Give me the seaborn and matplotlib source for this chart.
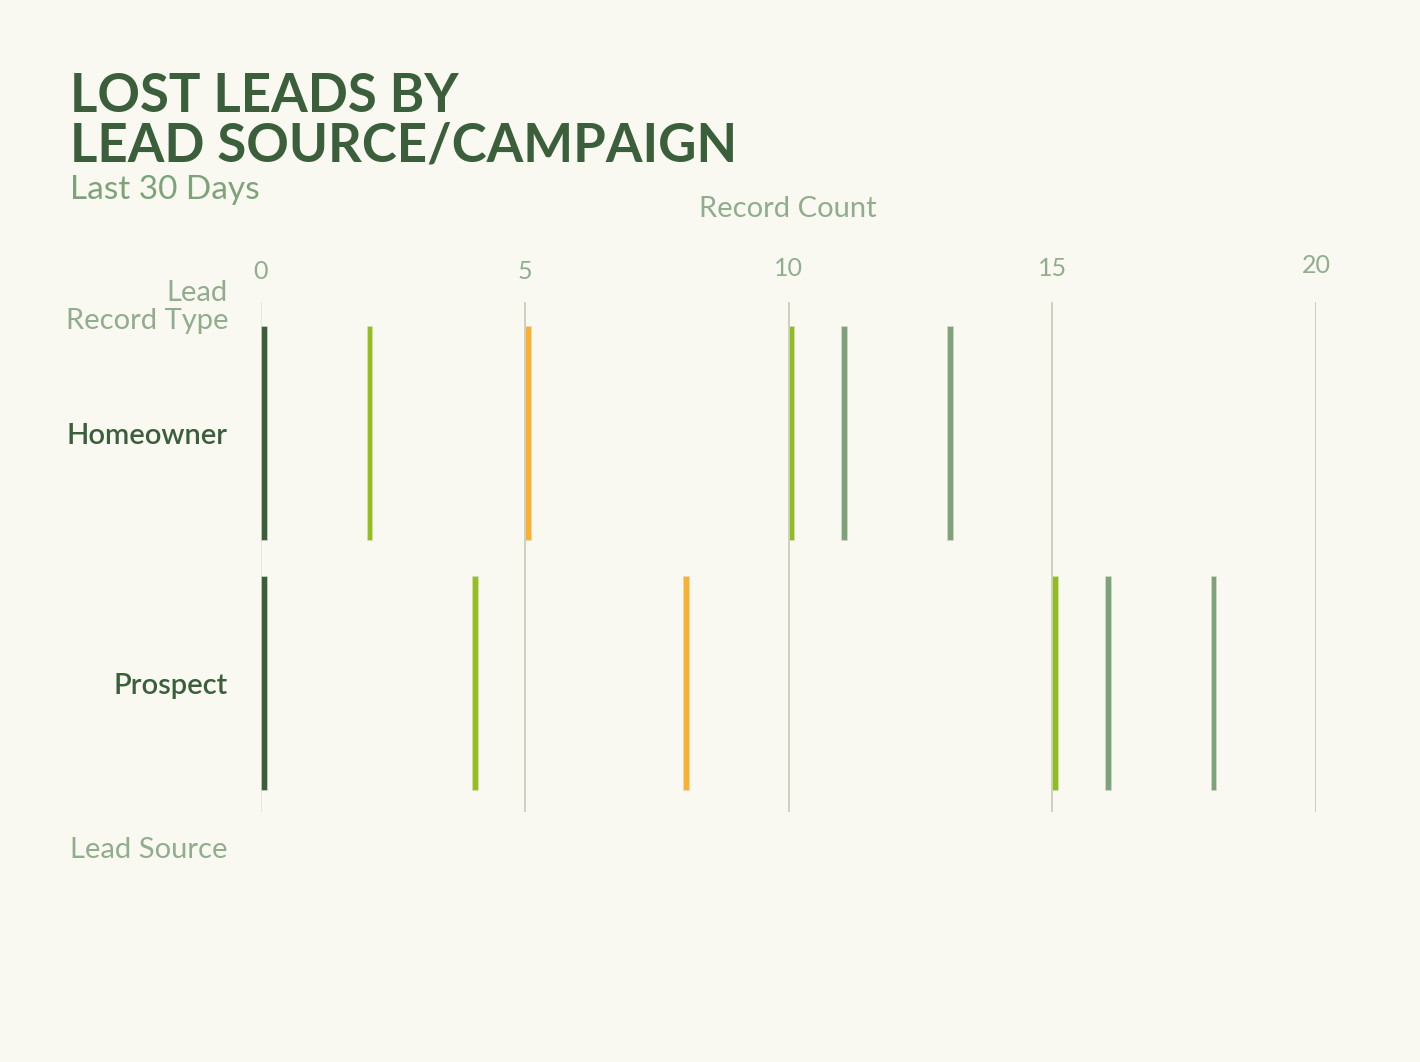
import matplotlib
matplotlib.use("Agg")
import matplotlib.pyplot as plt
import matplotlib.transforms as mtransforms
import seaborn as sns
import numpy as np

# lead record types (rows) and lead sources (stacked segments)
record_types = ["Homeowner", "Prospect"]
lead_sources = ["Web", "Phone Inquiry", "Partner Referral", "Purchased List", "Trade Show", "Other"]
homeowner_counts = [2, 3, 5, 1, 2, 1]
prospect_counts = [4, 4, 7, 1, 2, 1]
x_ticks = [0, 5, 10, 15, 20]

source_colors = ["#3b5e3b", "#93c01f", "#fbb12d", "#8fbd1f", "#7ea37a", "#7ea37a"]
bg = "#f9f9f2"
dark = "#3b5e3b"
muted = "#7ea37a"
light = "#91ad8d"

sns.set_theme(style="white")
plt.rcParams["font.family"] = ["Lato", "DejaVu Sans"]

fig = plt.figure(figsize=(14.2, 10.62), dpi=100, facecolor=bg)
ax = fig.add_axes([0.1838, 0.2354, 0.743, 0.4802], facecolor=bg)

counts = np.array([homeowner_counts, prospect_counts], dtype=float)
starts = np.cumsum(counts, axis=1) - counts
y = np.arange(len(record_types))

# each segment shows as a thin stroke where it begins
for j, src in enumerate(lead_sources):
    ax.barh(y, 0.11, left=starts[:, j], height=0.856, color=source_colors[j],
            edgecolor="#dcdccd", linewidth=0.4, label=src, zorder=3)

for t in x_ticks:
    ax.axvline(t, color="#e2e2d6" if t == 0 else "#c4c4b4", lw=1.1, zorder=1)

ax.set_xlim(0, 20)
ax.set_ylim(1.516, -0.524)
ax.set_xticks(x_ticks)
ax.xaxis.tick_top()
ax.tick_params(axis="x", length=0, pad=14, labelsize=18, labelcolor=light)
# the top labels climb a little from left to right
for tk, dy in zip(ax.xaxis.get_major_ticks(), [0, 0, 3, 3, 6]):
    tk.label2.set_transform(tk.label2.get_transform() +
                            mtransforms.ScaledTranslation(0, dy / 100, fig.dpi_scale_trans))
ax.set_yticks(y)
ax.set_yticklabels(record_types, fontsize=21, color=dark, fontweight="semibold")
ax.tick_params(axis="y", length=0, pad=24)
for s in ax.spines.values():
    s.set_visible(False)

fig.text(70 / 1420, 1 - 112 / 1062, "LOST LEADS BY", fontsize=38, fontweight="bold",
         color=dark, ha="left", va="baseline")
fig.text(70 / 1420, 1 - 162 / 1062, "LEAD SOURCE/CAMPAIGN", fontsize=38, fontweight="bold",
         color=dark, ha="left", va="baseline")
fig.text(70 / 1420, 1 - 199 / 1062, "Last 30 Days", fontsize=24, color=muted,
         ha="left", va="baseline")
fig.text(788 / 1420, 1 - 209 / 1062, "Record Count", fontsize=21, color=light,
         ha="center", va="center")
fig.text(228 / 1420, 1 - 293 / 1062, "Lead", fontsize=21, color=light,
         ha="right", va="center")
fig.text(228 / 1420, 1 - 321 / 1062, "Record Type", fontsize=21, color=light,
         ha="right", va="center")
fig.text(228 / 1420, 1 - 850 / 1062, "Lead Source", fontsize=21, color=light,
         ha="right", va="center")

fig.savefig("out.png", dpi=100, facecolor=bg)
